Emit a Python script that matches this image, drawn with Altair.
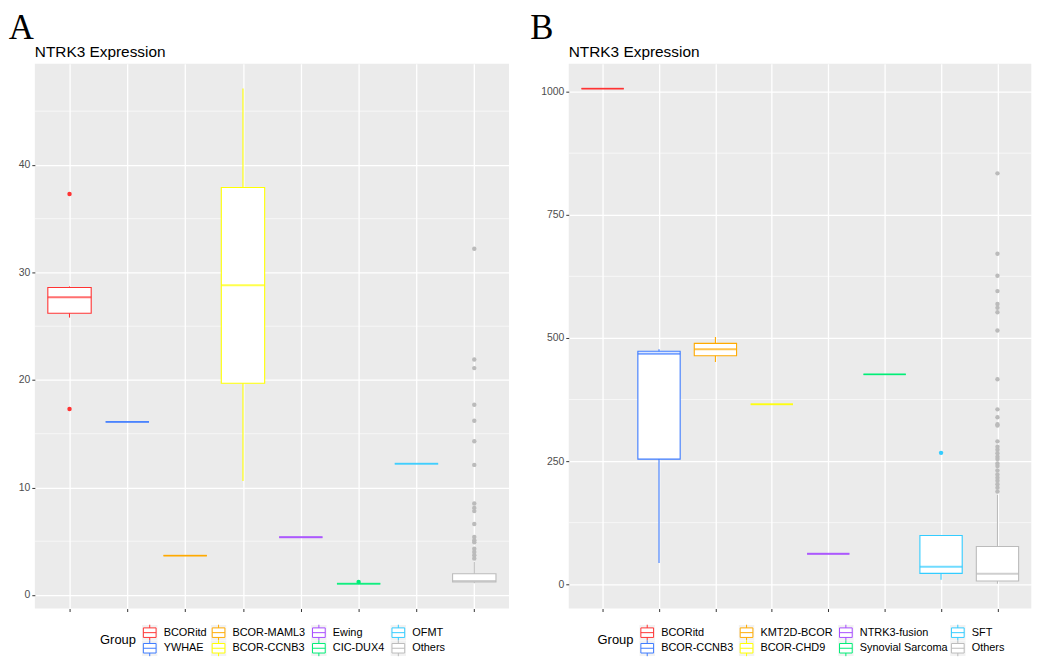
import altair as alt
import pandas as pd

panel_labels = ["A", "B"]
chart_title = "NTRK3 Expression"
legend_title = "Group"

colors = ["#FF3333", "#3D7BFF", "#FFAA00", "#FFFF00", "#A64DFF", "#00EE77", "#33CCFF", "#BBBBBB"]

# ---- Panel A ----
groups_a = ["BCORitd", "YWHAE", "BCOR-MAML3", "BCOR-CCNB3", "Ewing", "CIC-DUX4", "OFMT", "Others"]
lower_a = [25.8, 16.1, 3.66, 10.6, 5.38, 1.04, 12.2, 1.1]
q1_a = [26.2, 16.1, 3.66, 19.7, 5.38, 1.04, 12.2, 1.2]
median_a = [27.7, 16.1, 3.66, 28.8, 5.38, 1.04, 12.2, 1.3]
q3_a = [28.6, 16.1, 3.66, 37.9, 5.38, 1.04, 12.2, 1.97]
upper_a = [28.7, 16.1, 3.66, 47.1, 5.38, 1.04, 12.2, 3.1]
outlier_groups_a = ["BCORitd", "BCORitd", "CIC-DUX4"] + ["Others"] * 18
outlier_values_a = [37.3, 17.3, 1.2,
                    32.2, 21.9, 21.1, 17.7, 16.2, 14.3, 12.1, 8.5, 8.1, 7.8,
                    6.6, 5.4, 5.1, 4.9, 4.3, 4.0, 3.7, 3.4]
yticks_a = [0, 10, 20, 30, 40]
minor_a = [5, 15, 25, 35, 45]
ydomain_a = [-1.26, 49.4]

# ---- Panel B ----
groups_b = ["BCORitd", "BCOR-CCNB3", "KMT2D-BCOR", "BCOR-CHD9", "NTRK3-fusion", "Synovial Sarcoma", "SFT", "Others"]
lower_b = [1006, 43, 451, 365.5, 61.7, 426, 9.3, 1]
q1_b = [1006, 254, 463.7, 365.5, 61.7, 426, 22.1, 6.6]
median_b = [1006, 467.7, 477, 365.5, 61.7, 426, 35.5, 21.4]
q3_b = [1006, 473, 489, 365.5, 61.7, 426, 98.8, 76.6]
upper_b = [1006, 477, 502, 365.5, 61.7, 426, 98.8, 181.5]
outlier_groups_b = ["SFT"] + ["Others"] * 28
outlier_values_b = [266.7,
                    834, 671, 626, 595, 569, 561, 552, 515, 416, 355, 339, 325, 322,
                    290, 279, 273, 266, 259, 254, 245, 240, 231, 223, 216, 210, 203, 196, 188]
yticks_b = [0, 250, 500, 750, 1000]
minor_b = [125, 375, 625, 875]
ydomain_b = [-49.3, 1056.3]

# legend layout (pixels from each plot's top-left): key column centres, row centres
legend_cols_a = [115.7, 185.0, 286.0, 366.0]
legend_cols_b = [79.0, 179.0, 279.0, 391.7]
legend_rows = [572.7, 588.4]

BOX_PATH = "M-0.8,-0.6H0.8V0.6H-0.8Z M-0.8,0H0.8 M0,-0.6V-1 M0,0.6V1"
SANS = "Liberation Sans"
PLOT_H = 548.4


def make_panel(key, label, groups, lower, q1, med, q3, upper, og, ov, yticks, minor,
               ydomain, width, label_dx, leg_cols, leg_title_x):
    box_w = width / 8.2 * 0.75
    gfield = "group_" + key
    stats = pd.DataFrame({gfield: groups, "lower": lower, "q1": q1,
                          "median": med, "q3": q3, "upper": upper})
    outl = pd.DataFrame({gfield: og, "value": ov})
    minor_df = pd.DataFrame({"v": minor})
    lab_df = pd.DataFrame({"label": [label], "title": [chart_title], "leg": [legend_title]})

    cscale = alt.Scale(domain=groups, range=colors)
    yscale = alt.Scale(domain=ydomain, nice=False, zero=False)
    yaxis = alt.Axis(values=yticks, title=None, grid=True, gridColor="white",
                     gridWidth=1.3, labelFont=SANS, labelFontSize=10.5,
                     labelColor="#4D4D4D", tickColor="#333333", tickSize=3,
                     labelPadding=2, domain=False, format="d")
    xaxis = alt.Axis(labels=False, title=None, grid=True, gridColor="white",
                     gridWidth=1.3, tickColor="#333333", tickSize=3, domain=False)
    xenc = alt.X(f"{gfield}:N", sort=groups, scale=alt.Scale(type="point", padding=0.6),
                 axis=xaxis)
    cenc = alt.Color(f"{gfield}:N", scale=cscale, legend=None)

    minor_layer = alt.Chart(minor_df).mark_rule(color="white", strokeWidth=0.6).encode(
        y=alt.Y("v:Q", scale=yscale, axis=yaxis)
    )
    whisk = alt.Chart(stats).mark_rule(strokeWidth=1.1).encode(
        x=xenc,
        y=alt.Y("lower:Q", scale=yscale, axis=yaxis),
        y2="upper:Q",
        color=cenc,
    )
    box = alt.Chart(stats).mark_bar(width=box_w, fill="white", strokeWidth=1.1).encode(
        x=xenc,
        y=alt.Y("q1:Q", scale=yscale, axis=yaxis),
        y2="q3:Q",
        stroke=alt.Stroke(f"{gfield}:N", scale=cscale, legend=None),
    )
    median_layer = alt.Chart(stats).mark_tick(size=box_w, thickness=2).encode(
        x=xenc,
        y=alt.Y("median:Q", scale=yscale, axis=yaxis),
        color=cenc,
    )
    pts = alt.Chart(outl).mark_circle(size=20, opacity=1).encode(
        x=xenc,
        y=alt.Y("value:Q", scale=yscale, axis=yaxis),
        color=cenc,
    )
    lab = alt.Chart(lab_df).mark_text(
        font="Liberation Serif", fontSize=35, align="left", baseline="alphabetic",
        color="black"
    ).encode(x=alt.value(label_dx), y=alt.value(-25.3), text="label:N")
    ttl = alt.Chart(lab_df).mark_text(
        font=SANS, fontSize=15.5, align="left", baseline="alphabetic", color="black"
    ).encode(x=alt.value(0), y=alt.value(-6.8), text="title:N")

    layers = [minor_layer, whisk, box, median_layer, pts, lab, ttl]

    # legend drawn from the group list and colour list
    row_mid = sum(legend_rows) / 2
    layers.append(alt.Chart(lab_df).mark_text(
        font=SANS, fontSize=13, align="left", baseline="middle", color="black"
    ).encode(x=alt.value(leg_title_x), y=alt.value(row_mid), text="leg:N"))
    for g, name in enumerate(groups):
        cx = leg_cols[g // 2]
        cy = legend_rows[g % 2]
        ent = pd.DataFrame({"name": [name]})
        layers.append(alt.Chart(ent).mark_square(size=240, color="#F2F2F2", opacity=1)
                      .encode(x=alt.value(cx), y=alt.value(cy)))
        layers.append(alt.Chart(ent).mark_point(shape=BOX_PATH, size=256, fill="white",
                                                stroke=colors[g], strokeWidth=1,
                                                opacity=1, filled=False)
                      .encode(x=alt.value(cx), y=alt.value(cy)))
        layers.append(alt.Chart(ent).mark_text(font=SANS, fontSize=11, align="left",
                                               baseline="middle", color="black")
                      .encode(x=alt.value(cx + 14), y=alt.value(cy), text="name:N"))

    return alt.layer(*layers).properties(width=width, height=PLOT_H)


panel_a = make_panel("a", panel_labels[0], groups_a, lower_a, q1_a, median_a, q3_a, upper_a,
                     outlier_groups_a, outlier_values_a, yticks_a, minor_a, ydomain_a,
                     477.4, -26.3, legend_cols_a, 65.7)
panel_b = make_panel("b", panel_labels[1], groups_b, lower_b, q1_b, median_b, q3_b, upper_b,
                     outlier_groups_b, outlier_values_b, yticks_b, minor_b, ydomain_b,
                     465.7, -38.7, legend_cols_b, 29)

chart = alt.hconcat(panel_a, panel_b, spacing=20.6).resolve_scale(
    color="independent", stroke="independent"
).properties(
    padding={"left": 0, "top": 0, "right": 0, "bottom": 2},
    background="white",
).configure_view(fill="#EBEBEB", stroke=None)

chart.save("out.html", embed_options={"renderer": "svg", "actions": False})
